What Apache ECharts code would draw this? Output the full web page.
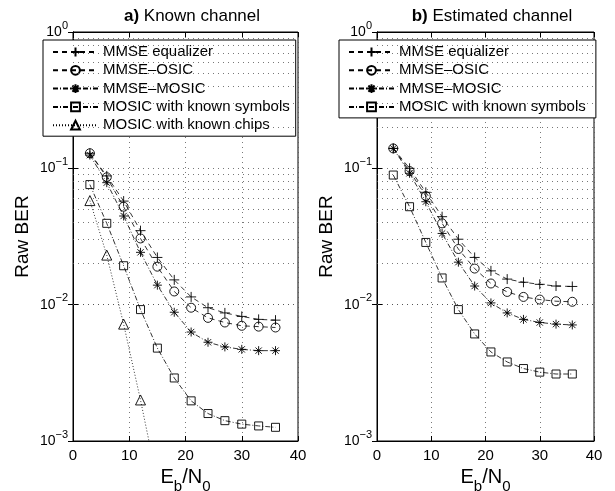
<!DOCTYPE html>
<html>
<head>
<meta charset="utf-8">
<script src="https://cdn.jsdelivr.net/npm/echarts@6/dist/echarts.min.js"></script>
<style>
html, body { margin: 0; padding: 0; background: #fff; }
#chart { width: 615px; height: 491px; }
</style>
</head>
<body>
<div id="chart"></div>
<script>
// Eb/N0 points
var ebn0 = [3, 6, 9, 12, 15, 18, 21, 24, 27, 30, 33, 36];
var ebn0Chips = [3, 6, 9, 12, 15];

// a) Known channel
var knownMmse    = [0.129, 0.088, 0.0575, 0.0349, 0.0222, 0.0152, 0.0114, 0.0095, 0.0087, 0.0082, 0.0078, 0.0077];
var knownOsic    = [0.129, 0.086, 0.0523, 0.0306, 0.0190, 0.0125, 0.0095, 0.0080, 0.0074, 0.0070, 0.0069, 0.0068];
var knownMosic   = [0.125, 0.0785, 0.0447, 0.0242, 0.0139, 0.0088, 0.0063, 0.0053, 0.0049, 0.0047, 0.0046, 0.0046];
var knownSymbols = [0.0760, 0.0395, 0.0193, 0.0092, 0.0048, 0.0029, 0.00197, 0.00159, 0.00141, 0.00133, 0.00129, 0.00126];
var knownChips   = [0.058, 0.0231, 0.0072, 0.0020, 0.0005];

// b) Estimated channel
var estMmse    = [0.140, 0.100, 0.0667, 0.0442, 0.0302, 0.0222, 0.0177, 0.0154, 0.0146, 0.0141, 0.0137, 0.0136];
var estOsic    = [0.140, 0.0955, 0.0626, 0.0395, 0.0256, 0.0184, 0.0143, 0.0124, 0.0114, 0.0109, 0.0106, 0.0105];
var estMosic   = [0.140, 0.092, 0.0569, 0.0333, 0.0205, 0.0137, 0.0103, 0.0087, 0.0078, 0.0074, 0.0072, 0.0071];
var estSymbols = [0.0893, 0.0523, 0.0286, 0.0157, 0.0092, 0.0061, 0.0045, 0.0038, 0.0034, 0.0032, 0.0031, 0.0031];

var names = ['MMSE equalizer', 'MMSE\u2013OSIC', 'MMSE\u2013MOSIC', 'MOSIC with known symbols', 'MOSIC with known chips'];

var FONT = 'Liberation Sans, Arial, Helvetica, sans-serif';
var dotted = { type: [1, 4], color: '#555', width: 0.8 };

var sym = {
    plus: 'path://M0,5L10,5M5,0L5,10',
    star: 'path://M5,0L5,10M0,5L10,5M1.5,1.5L8.5,8.5M8.5,1.5L1.5,8.5',
    circle: 'circle',
    square: 'rect',
    tri: 'triangle'
};

function pairs(xs, ys) {
    return ys.map(function (v, i) { return [xs[i], v]; });
}

function line(name, gi, xs, ys, symbol, size, dash) {
    return {
        name: name,
        type: 'line',
        xAxisIndex: gi * 2,
        yAxisIndex: gi * 2,
        data: pairs(xs, ys),
        symbol: symbol,
        symbolSize: size,
        showAllSymbol: true,
        clip: true,
        itemStyle: { color: 'rgba(0,0,0,0)', borderColor: '#000', borderWidth: 0.9 },
        lineStyle: { color: '#000', width: 0.8, type: dash },
        emphasis: { disabled: true },
        z: 3
    };
}

// minor log grid lines (2..9 in each decade)
var minor = [];
[0.001, 0.01, 0.1].forEach(function (d) {
    for (var k = 2; k <= 9; k++) minor.push({ yAxis: +(d * k).toPrecision(3) });
});

function gridLines(gi) {
    return {
        type: 'line', xAxisIndex: gi * 2, yAxisIndex: gi * 2, data: [], silent: true,
        markLine: { silent: true, symbol: 'none', animation: false, label: { show: false },
            lineStyle: dotted, emphasis: { disabled: true }, data: minor },
        z: 1
    };
}

function yLabel(v) {
    var e = Math.round(Math.log10(v));
    return '{b|10}{s|' + (e < 0 ? '\u2212' + (-e) : e) + '}';
}

function axesFor(gi) {
    var xs = [
        { type: 'value', gridIndex: gi, min: 0, max: 40, interval: 10, position: 'bottom',
          axisLine: { lineStyle: { color: '#000', width: 1 } },
          axisTick: { inside: true, length: 5, lineStyle: { color: '#000' } },
          axisLabel: { color: '#000', fontSize: 15, fontFamily: FONT, margin: 7 },
          splitLine: { show: true, lineStyle: dotted },
          name: '{m|E}{s|b}{m|/N}{s|0}', nameLocation: 'middle', nameGap: 13,
          nameTextStyle: { rich: {
              m: { fontSize: 20, fontFamily: FONT, color: '#000', lineHeight: 32 },
              s: { fontSize: 15, fontFamily: FONT, color: '#000', verticalAlign: 'bottom' }
          } } },
        { type: 'value', gridIndex: gi, min: 0, max: 40, interval: 10, position: 'top',
          axisLine: { lineStyle: { color: '#000', width: 1 } },
          axisTick: { inside: true, length: 5, lineStyle: { color: '#000' } },
          axisLabel: { show: false }, splitLine: { show: false } }
    ];
    var ys = [
        { type: 'log', logBase: 10, gridIndex: gi, min: 0.001, max: 1, splitNumber: 3, position: 'left',
          axisLine: { lineStyle: { color: '#000', width: 1 } },
          axisTick: { inside: true, length: 5, lineStyle: { color: '#000' } },
          axisLabel: { formatter: yLabel, margin: 5, rich: {
              b: { fontSize: 14, fontFamily: FONT, color: '#000', lineHeight: 24 },
              s: { fontSize: 11, fontFamily: FONT, color: '#000', verticalAlign: 'top' }
          } },
          splitLine: { show: true, lineStyle: dotted },
          name: 'Raw BER', nameLocation: 'middle', nameRotate: 90, nameGap: 41,
          nameTextStyle: { fontSize: 19, fontFamily: FONT, color: '#000' } },
        { type: 'log', logBase: 10, gridIndex: gi, min: 0.001, max: 1, splitNumber: 3, position: 'right',
          axisLine: { lineStyle: { color: '#000', width: 1 } },
          axisTick: { inside: true, length: 5, lineStyle: { color: '#000' } },
          axisLabel: { show: false }, splitLine: { show: false } }
    ];
    return { x: xs, y: ys };
}

var a0 = axesFor(0), a1 = axesFor(1);

function legendAt(left, data) {
    return {
        orient: 'vertical', left: left, top: 40,
        data: data,
        itemWidth: 45, itemHeight: 11, itemGap: 0.3,
        padding: [3, 6, 2, 9],
        borderColor: '#000', borderWidth: 1, backgroundColor: '#fff',
        selectedMode: false,
        textStyle: { fontSize: 15, fontFamily: FONT, color: '#000', lineHeight: 18 }
    };
}

var titleRich = {
    b: { fontSize: 17, fontWeight: 'bold', fontFamily: FONT, color: '#000' },
    n: { fontSize: 17, fontWeight: 'normal', fontFamily: FONT, color: '#000' }
};

var option = {
    animation: false,
    backgroundColor: '#fff',
    title: [
        { text: '{b|a)}{n| Known channel}', left: 187, top: 3, textAlign: 'center',
          textStyle: { fontWeight: 'normal', rich: titleRich } },
        { text: '{b|b)}{n| Estimated channel}', left: 487, top: 3, textAlign: 'center',
          textStyle: { fontWeight: 'normal', rich: titleRich } }
    ],
    grid: [
        { left: 73, top: 32, width: 225, height: 409, show: true, borderColor: '#000', borderWidth: 1,
          containLabel: false, outerBoundsMode: 'none' },
        { left: 377, top: 32, width: 217, height: 409, show: true, borderColor: '#000', borderWidth: 1,
          containLabel: false, outerBoundsMode: 'none' }
    ],
    xAxis: a0.x.concat(a1.x),
    yAxis: a0.y.concat(a1.y),
    legend: [
        legendAt(43, names.slice(0, 5)),
        legendAt(339, names.slice(0, 4).map(function (n) { return n + ' '; }))
    ],
    series: [
        gridLines(0),
        gridLines(1),
        line(names[0], 0, ebn0, knownMmse, sym.plus, 10, [5, 4]),
        line(names[1], 0, ebn0, knownOsic, sym.circle, 9, [5, 4]),
        line(names[2], 0, ebn0, knownMosic, sym.star, 9, [5, 2, 1, 2]),
        line(names[3], 0, ebn0, knownSymbols, sym.square, 8, [5, 2, 1, 2]),
        line(names[4], 0, ebn0Chips, knownChips, sym.tri, 10, [1, 2]),
        line(names[0] + ' ', 1, ebn0, estMmse, sym.plus, 10, [5, 4]),
        line(names[1] + ' ', 1, ebn0, estOsic, sym.circle, 9, [5, 4]),
        line(names[2] + ' ', 1, ebn0, estMosic, sym.star, 9, [5, 2, 1, 2]),
        line(names[3] + ' ', 1, ebn0, estSymbols, sym.square, 8, [5, 2, 1, 2])
    ]
};

var chart = echarts.init(document.getElementById('chart'));
chart.setOption(option);
</script>
</body>
</html>
